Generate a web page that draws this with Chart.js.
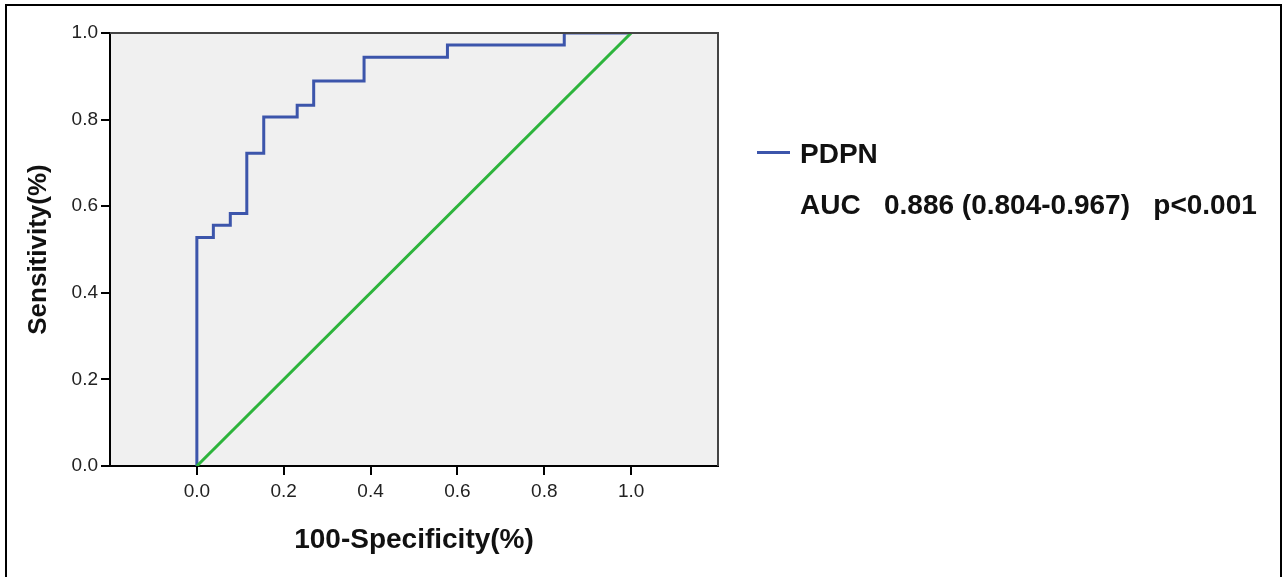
<!DOCTYPE html>
<html>
<head>
<meta charset="utf-8">
<script src="https://cdn.jsdelivr.net/npm/chart.js@4.4.0/dist/chart.umd.min.js"></script>
<style>
    body { margin: 0; background: #fff; overflow: hidden; width: 1283px; height: 577px; position: relative; font-family: "Liberation Sans", Arial, sans-serif; }
    #frame { position: absolute; left: 5px; top: 4px; width: 1277px; height: 600px; box-sizing: border-box; border: 2px solid #000; border-bottom: none; }
    #rocChart { position: absolute; left: 0; top: 0; }
    .legend-line { position: absolute; left: 757px; top: 151px; width: 33px; height: 3px; background: #3c55ab; }
    .legend-text { position: absolute; left: 800px; font-weight: bold; color: #111; white-space: pre; line-height: 1; }
</style>
</head>
<body>
<div id="frame"></div>
<canvas id="rocChart" width="1283" height="577"></canvas>
<div class="legend-line"></div>
<div class="legend-text" style="top: 140px; font-size: 28px;">PDPN</div>
<div class="legend-text" style="top: 191px; font-size: 28px;">AUC   0.886 (0.804-0.967)   p&lt;0.001</div>
<script>
// ROC curve corners (1 - specificity, sensitivity)
const fpr = [0, 0, 0.038, 0.038, 0.077, 0.077, 0.115, 0.115, 0.154, 0.154, 0.231, 0.231, 0.269, 0.269, 0.385, 0.385, 0.577, 0.577, 0.846, 0.846, 1.0];
const tpr = [0, 0.528, 0.528, 0.556, 0.556, 0.583, 0.583, 0.722, 0.722, 0.806, 0.806, 0.833, 0.833, 0.889, 0.889, 0.944, 0.944, 0.972, 0.972, 1.0, 1.0];

// Reference diagonal
const refX = [0, 1];
const refY = [0, 1];

// Tick labels
const xTicks = [0, 0.2, 0.4, 0.6, 0.8, 1.0];
const yTicks = [0, 0.2, 0.4, 0.6, 0.8, 1.0];

const rocPoints = fpr.map((v, i) => ({ x: v, y: tpr[i] }));
const refPoints = refX.map((v, i) => ({ x: v, y: refY[i] }));

// Grey plot background and the top/right frame lines
const plotFrame = {
    id: 'plotFrame',
    beforeDraw(chart) {
        const { ctx, chartArea: a } = chart;
        ctx.save();
        ctx.fillStyle = '#f0f0f0';
        ctx.fillRect(a.left, a.top, a.right - a.left, a.bottom - a.top);
        ctx.restore();
    },
    afterDraw(chart) {
        const { ctx, chartArea: a } = chart;
        ctx.save();
        ctx.strokeStyle = '#444';
        ctx.lineWidth = 2;
        ctx.beginPath();
        ctx.moveTo(a.left, a.top);
        ctx.lineTo(a.right, a.top);
        ctx.lineTo(a.right, a.bottom);
        ctx.stroke();
        ctx.restore();
    }
};

const fontFamily = 'Liberation Sans, Arial, sans-serif';
const tickFont = { family: fontFamily, size: 19 };

new Chart(document.getElementById('rocChart').getContext('2d'), {
    type: 'line',
    data: {
        datasets: [{
            label: 'Reference',
            data: refPoints,
            borderColor: '#2db43c',
            borderWidth: 3,
            pointRadius: 0,
            tension: 0
        }, {
            label: 'PDPN',
            data: rocPoints,
            borderColor: '#3c55ab',
            borderWidth: 3,
            pointRadius: 0,
            tension: 0
        }]
    },
    options: {
        responsive: false,
        animation: false,
        events: [],
        layout: { padding: { left: 0, top: 33, right: 565, bottom: 0 } },
        plugins: { legend: { display: false }, tooltip: { enabled: false } },
        scales: {
            x: {
                type: 'linear',
                min: -0.2,
                max: 1.2,
                afterBuildTicks: (scale) => { scale.ticks = xTicks.map(v => ({ value: v })); },
                afterFit: (scale) => { scale.height = 111; },
                border: { display: true, color: '#000', width: 2 },
                grid: { drawOnChartArea: false, drawTicks: true, tickLength: 9, color: '#000', lineWidth: 2 },
                ticks: { font: tickFont, color: '#222', padding: 5, callback: (v) => v.toFixed(1) },
                title: { display: true, text: '100-Specificity(%)', font: { family: fontFamily, size: 28, weight: 'bold' }, color: '#111', padding: { top: 0, bottom: 20 } }
            },
            y: {
                type: 'linear',
                min: 0,
                max: 1,
                afterBuildTicks: (scale) => { scale.ticks = yTicks.map(v => ({ value: v })); },
                afterFit: (scale) => { scale.width = 110; },
                border: { display: true, color: '#000', width: 2 },
                grid: { drawOnChartArea: false, drawTicks: true, tickLength: 9, color: '#000', lineWidth: 2 },
                ticks: { font: tickFont, color: '#222', padding: 3, callback: (v) => v.toFixed(1) },
                title: { display: true, text: 'Sensitivity(%)', font: { family: fontFamily, size: 26, weight: 'bold' }, color: '#111', padding: { top: 23, bottom: 0 } }
            }
        }
    },
    plugins: [plotFrame]
});
</script>
</body>
</html>
